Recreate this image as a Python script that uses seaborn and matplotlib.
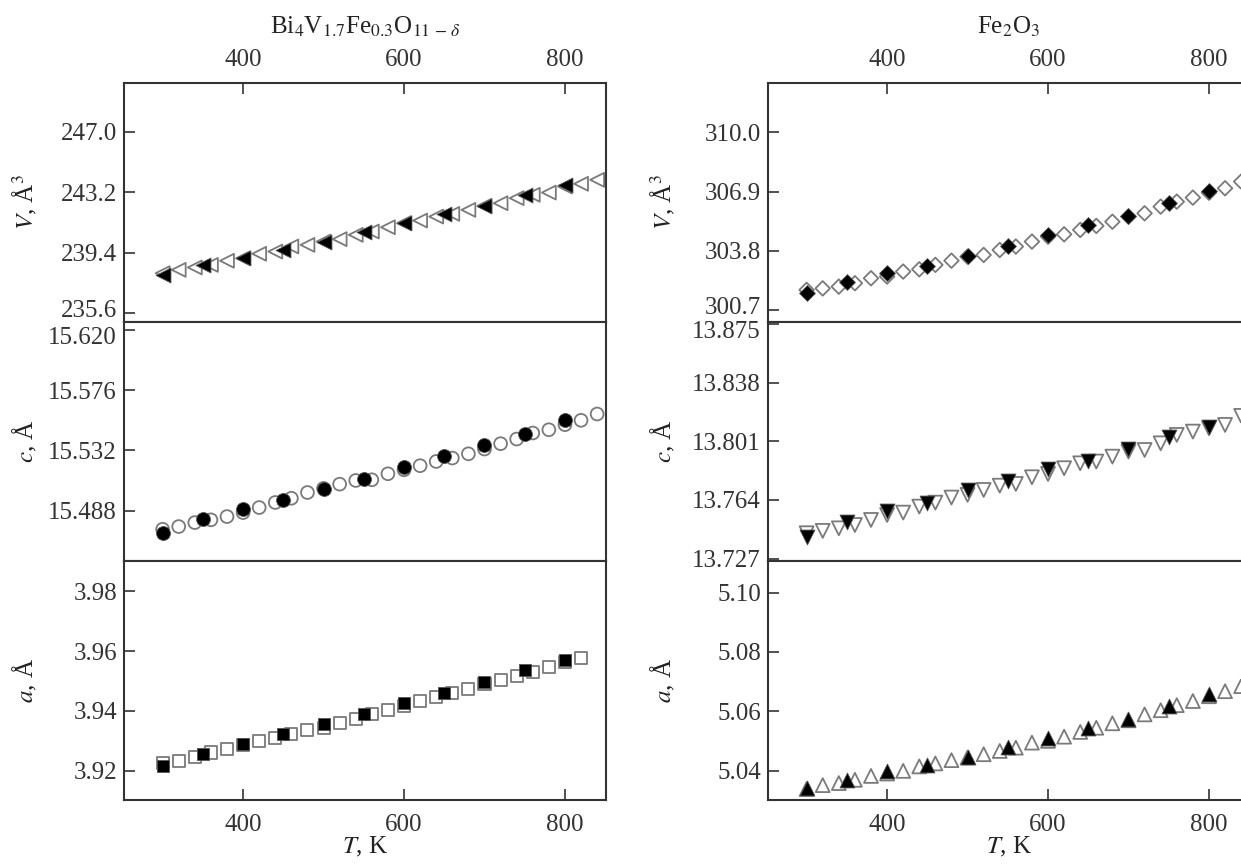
import matplotlib
matplotlib.use("Agg")
import matplotlib.pyplot as plt
import matplotlib.transforms as mtransforms
import seaborn as sns

# temperatures, K
T_filled = [300, 350, 400, 450, 500, 550, 600, 650, 700, 750, 800]
T_open_left = [300, 320, 340, 360, 380, 400, 420, 440, 460, 480, 500, 520, 540, 560,
               580, 600, 620, 640, 660, 680, 700, 720, 740, 760, 780, 800, 820, 840]
T_open_left_a = T_open_left[:-1]
T_open_right = T_open_left

# Bi4V1.7Fe0.3O11-d
bivo_V_filled = [238.00, 238.62, 239.04, 239.57, 240.09, 240.68, 241.25, 241.83, 242.34, 243.03, 243.62]
bivo_V_open = [238.10, 238.31, 238.46, 238.62, 238.88, 239.04, 239.32, 239.46, 239.78, 239.88,
               240.09, 240.24, 240.51, 240.72, 240.99, 241.25, 241.41, 241.66, 241.83, 242.08,
               242.34, 242.50, 242.82, 243.03, 243.17, 243.55, 243.72, 243.97]
bivo_c_filled = [15.4719, 15.4816, 15.4892, 15.4958, 15.5039, 15.5110, 15.5198, 15.5276, 15.5357, 15.5442, 15.5540]
bivo_c_open = [15.4743, 15.4763, 15.4792, 15.4812, 15.4836, 15.4865, 15.4902, 15.4939, 15.4970, 15.5012,
               15.5042, 15.5073, 15.5100, 15.5105, 15.5149, 15.5178, 15.5208, 15.5239, 15.5264, 15.5295,
               15.5330, 15.5369, 15.5403, 15.5447, 15.5471, 15.5508, 15.5540, 15.5586]
bivo_a_filled = [3.9217, 3.9256, 3.9291, 3.9322, 3.9356, 3.9391, 3.9426, 3.9461, 3.9497, 3.9536, 3.9570]
bivo_a_open = [3.9226, 3.9233, 3.9247, 3.9261, 3.9274, 3.9286, 3.9300, 3.9311, 3.9324, 3.9337,
               3.9344, 3.9361, 3.9374, 3.9389, 3.9403, 3.9417, 3.9433, 3.9448, 3.9459, 3.9474,
               3.9489, 3.9503, 3.9517, 3.9530, 3.9548, 3.9563, 3.9578]

# Fe2O3
fe_V_filled = [301.61, 302.15, 302.65, 303.02, 303.54, 304.07, 304.61, 305.15, 305.62, 306.32, 306.93]
fe_V_open = [301.75, 301.83, 301.92, 302.10, 302.36, 302.45, 302.71, 302.83, 303.06, 303.28,
             303.49, 303.58, 303.84, 304.02, 304.28, 304.54, 304.66, 304.89, 305.10, 305.32,
             305.59, 305.76, 306.11, 306.37, 306.58, 306.84, 307.07, 307.42]
fe_c_filled = [13.7405, 13.7503, 13.7571, 13.7623, 13.7703, 13.7760, 13.7835, 13.7888, 13.7960, 13.8039, 13.8098]
fe_c_open = [13.7430, 13.7445, 13.7461, 13.7482, 13.7514, 13.7545, 13.7560, 13.7598, 13.7623, 13.7655,
             13.7672, 13.7703, 13.7730, 13.7741, 13.7783, 13.7804, 13.7840, 13.7871, 13.7882, 13.7913,
             13.7945, 13.7955, 13.7997, 13.8050, 13.8071, 13.8092, 13.8113, 13.8170]
fe_a_filled = [5.0344, 5.0370, 5.0398, 5.0419, 5.0448, 5.0480, 5.0512, 5.0545, 5.0573, 5.0618, 5.0659]
fe_a_open = [5.0339, 5.0352, 5.0359, 5.0370, 5.0383, 5.0391, 5.0400, 5.0415, 5.0425, 5.0436,
             5.0445, 5.0456, 5.0467, 5.0478, 5.0495, 5.0501, 5.0515, 5.0531, 5.0545, 5.0560,
             5.0570, 5.0590, 5.0604, 5.0621, 5.0635, 5.0651, 5.0668, 5.0685]

x_ticks = [400, 600, 800]
bivo_ticks = [[247.0, 243.2, 239.4, 235.6], [15.620, 15.576, 15.532, 15.488], [3.98, 3.96, 3.94, 3.92]]
fe_ticks = [[310.0, 306.9, 303.8, 300.7], [13.875, 13.838, 13.801, 13.764, 13.727], [5.10, 5.08, 5.06, 5.04]]
tick_fmt = ["%.1f", "%.3f", "%.2f"]
bivo_ylim = [(235.03, 250.06), (15.4511, 15.6259), (3.9102, 3.9902)]
fe_ylim = [(300.07, 312.58), (13.7255, 13.8762), (5.0302, 5.1106)]
ylabels = ["$V$, Å$^3$", "$c$, Å", "$a$, Å"]

sns.set_style("ticks")
plt.rcParams['font.family'] = ['Liberation Serif', 'DejaVu Serif']
plt.rcParams['mathtext.fontset'] = 'stix'
plt.rcParams['text.color'] = '#222222'
plt.rcParams['axes.labelcolor'] = '#222222'
plt.rcParams['xtick.color'] = '#333333'
plt.rcParams['ytick.color'] = '#333333'

FS = 18
W, H = 1241, 866
fig = plt.figure(figsize=(W / 100, H / 100), dpi=100)

panel_h = 239
tops = [83, 322, 561]
panel_w = 482

columns = [
    dict(left=124, ticks=bivo_ticks, ylim=bivo_ylim, labx=-0.176,
         title="Bi$_4$V$_{1.7}$Fe$_{0.3}$O$_{11\\,-\\,\\delta}$",
         series=[(bivo_V_filled, bivo_V_open, T_open_left, '<', 100, 115),
                 (bivo_c_filled, bivo_c_open, T_open_left, 'o', 85, 100),
                 (bivo_a_filled, bivo_a_open, T_open_left_a, 's', 75, 85)]),
    dict(left=768, ticks=fe_ticks, ylim=fe_ylim, labx=-0.189,
         title="Fe$_2$O$_3$",
         series=[(fe_V_filled, fe_V_open, T_open_right, 'D', 55, 65),
                 (fe_c_filled, fe_c_open, T_open_right, 'v', 100, 115),
                 (fe_a_filled, fe_a_open, T_open_right, '^', 100, 115)]),
]

for col in columns:
    for i in range(3):
        ax = fig.add_axes([col['left'] / W, 1 - (tops[i] + panel_h) / H, panel_w / W, panel_h / H])
        yf, yo, To, mk, s_open, s_fill = col['series'][i]
        sns.scatterplot(x=To, y=yo, marker=mk, s=s_open, color='#7a7a7a',
                        facecolor='none', edgecolor='#7a7a7a', linewidth=1.3, ax=ax, zorder=2)
        sns.scatterplot(x=T_filled, y=yf, marker=mk, s=s_fill, color='black',
                        edgecolor='#555555', linewidth=0.6, ax=ax, zorder=3)
        ax.set_xlim(252, 851)
        ax.set_ylim(*col['ylim'][i])
        ax.set_yticks(col['ticks'][i])
        ax.set_yticklabels([tick_fmt[i] % v for v in col['ticks'][i]])
        ax.set_xticks(x_ticks)
        ax.tick_params(axis='y', direction='in', length=8, width=1.2, labelsize=FS, pad=5)
        ax.tick_params(axis='x', direction='in', length=8, width=1.2, labelsize=FS,
                       pad=(9 if i == 0 else 10),
                       top=(i == 0), labeltop=(i == 0),
                       bottom=(i == 2), labelbottom=(i == 2))
        ax.set_ylabel(ylabels[i], fontsize=FS)
        ax.yaxis.set_label_coords(col['labx'], 0.5)
        ax.set_xlabel("$T$, K" if i == 2 else "", fontsize=FS, labelpad=-1)
        for sp in ax.spines.values():
            sp.set_linewidth(1.5)
            sp.set_color('#333333')
        # keep the stacked labels at the panel joints apart
        labels = ax.get_yticklabels()
        if i == 0:
            labels[-1].set_transform(labels[-1].get_transform() +
                                     mtransforms.ScaledTranslation(0, 3 / 72, fig.dpi_scale_trans))
        if i == 1:
            labels[0].set_transform(labels[0].get_transform() +
                                    mtransforms.ScaledTranslation(0, -4 / 72, fig.dpi_scale_trans))
        if i == 0:
            fig.text((col['left'] + panel_w / 2) / W, 1 - 27 / H, col['title'],
                     ha='center', va='center', fontsize=FS)

fig.savefig("out.png", dpi=100)
